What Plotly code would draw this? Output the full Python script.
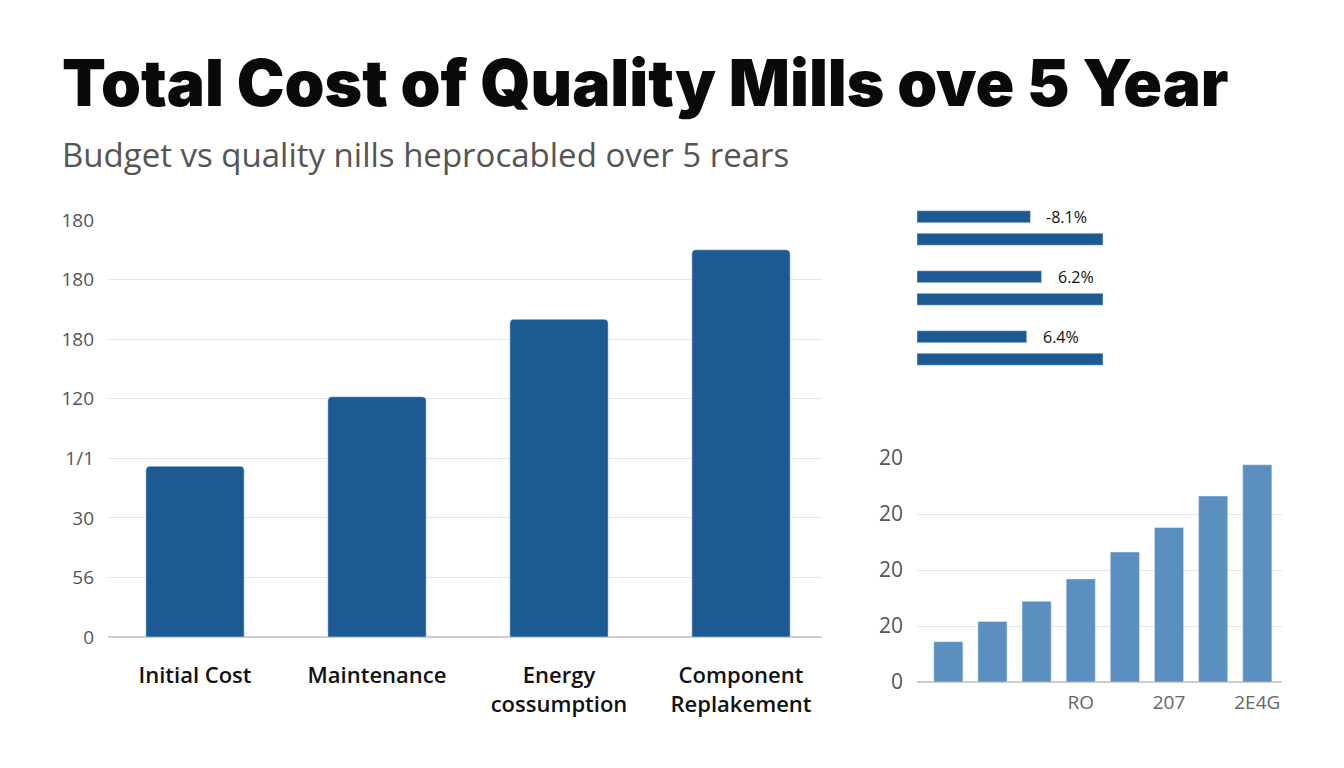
import plotly.graph_objects as go

W, H = 1344, 768

# ---------------- data ----------------
categories = ["Initial Cost", "Maintenance", "Energy<br>cossumption", "Component<br>Replakement"]
cost_values = [86, 121, 160, 195]
main_tickvals = [0, 30, 60, 90, 120, 150, 180, 210]
main_ticktext = ["0", "56", "30", "1/1", "120", "180", "180", "180"]

hbar_rows = [0, 1, 2]
hbar_short = [61, 67, 59]
hbar_long = [100, 100, 100]
hbar_labels = ["-8.1%", "6.2%", "6.4%"]

trend_x = [0, 1, 2, 3, 4, 5, 6, 7]
trend_values = [18, 27, 36, 46, 58, 69, 83, 97]
trend_tickvals = [3, 5, 7]
trend_ticktext = ["RO", "207", "2E4G"]
trend_ytickvals = [0, 25, 50, 75, 100]
trend_yticktext = ["0", "20", "20", "20", "20"]

title_text = "Total Cost of Quality Mills ove 5 Year"
subtitle_text = "Budget vs quality nills heprocabled over 5 rears"

DARK_BLUE = "#1d5a94"
LIGHT_BLUE = "#5b8fc0"
GRID = "#e6e6e6"


def px_x(p):
    return p / W


def px_y(p):
    return 1 - p / H


fig = go.Figure()

# main bar chart
fig.add_trace(go.Bar(
    x=categories, y=cost_values, marker=dict(color=DARK_BLUE, cornerradius=4),
    width=0.54, xaxis="x", yaxis="y", showlegend=False,
))

# horizontal paired bars
fig.add_trace(go.Bar(
    x=hbar_short, y=hbar_rows, orientation="h", marker=dict(color=DARK_BLUE),
    width=0.2, offset=-0.2875, xaxis="x2", yaxis="y2", showlegend=False,
))
fig.add_trace(go.Bar(
    x=hbar_long, y=hbar_rows, orientation="h", marker=dict(color=DARK_BLUE),
    width=0.2, offset=0.0875, xaxis="x2", yaxis="y2", showlegend=False,
))

# small trend chart
fig.add_trace(go.Bar(
    x=trend_x, y=trend_values, marker=dict(color=LIGHT_BLUE),
    width=0.66, xaxis="x3", yaxis="y3", showlegend=False,
))

annotations = [
    dict(text=title_text, x=px_x(60), y=px_y(82), xref="paper", yref="paper",
         xanchor="left", yanchor="middle", showarrow=False,
         font=dict(family="Inter", size=64, color="#0a0a0a", weight=900)),
    dict(text=subtitle_text, x=px_x(60), y=px_y(154), xref="paper", yref="paper",
         xanchor="left", yanchor="middle", showarrow=False,
         font=dict(family="Open Sans", size=33, color="#555555")),
]
for i, lab in enumerate(hbar_labels):
    annotations.append(dict(
        text=lab, x=hbar_short[i], y=hbar_rows[i] - 0.1875, xref="x2", yref="y2",
        xanchor="left", yanchor="middle", xshift=14, showarrow=False,
        font=dict(family="Open Sans", size=16, color="#111111"),
    ))

fig.update_layout(
    width=W, height=H,
    margin=dict(l=0, r=0, t=0, b=0),
    paper_bgcolor="#ffffff", plot_bgcolor="#ffffff",
    barmode="overlay",
    annotations=annotations,
    xaxis=dict(domain=[px_x(108), px_x(822)], range=[-0.478, 3.445],
               showgrid=False, zeroline=False,
               showline=False, ticks="", ticklabelstandoff=23, automargin=False,
               tickfont=dict(family="Open Sans", size=22, color="#111111", weight=600),
               fixedrange=True),
    yaxis=dict(domain=[px_y(637), px_y(220)], range=[0, 210],
               tickvals=main_tickvals, ticktext=main_ticktext,
               showgrid=True, gridcolor=GRID, gridwidth=1,
               zeroline=True, zerolinecolor="#cfcfcf", zerolinewidth=1.5,
               showline=False, ticks="", ticklabelstandoff=13, automargin=False,
               tickfont=dict(family="Open Sans", size=19, color="#555555")),
    xaxis2=dict(domain=[px_x(917), px_x(1103)], range=[0, 100], visible=False),
    yaxis2=dict(domain=[px_y(378), px_y(198)], range=[2.5, -0.5], visible=False,
                anchor="x2"),
    xaxis3=dict(domain=[px_x(917), px_x(1282)], range=[-0.71, 7.56],
                tickvals=trend_tickvals, ticktext=trend_ticktext,
                showgrid=False, zeroline=False, showline=False, ticks="",
                ticklabelstandoff=7, automargin=False, anchor="y3",
                tickfont=dict(family="Open Sans", size=19, color="#666666")),
    yaxis3=dict(domain=[px_y(682), px_y(458)], range=[0, 100],
                tickvals=trend_ytickvals, ticktext=trend_yticktext,
                showgrid=True, gridcolor=GRID, gridwidth=1,
                zeroline=True, zerolinecolor="#cccccc", zerolinewidth=1.5,
                showline=False, ticks="", ticklabelstandoff=13, automargin=False,
                anchor="x3",
                tickfont=dict(family="Open Sans", size=21, color="#555555")),
)

fig.write_html("out.html")
